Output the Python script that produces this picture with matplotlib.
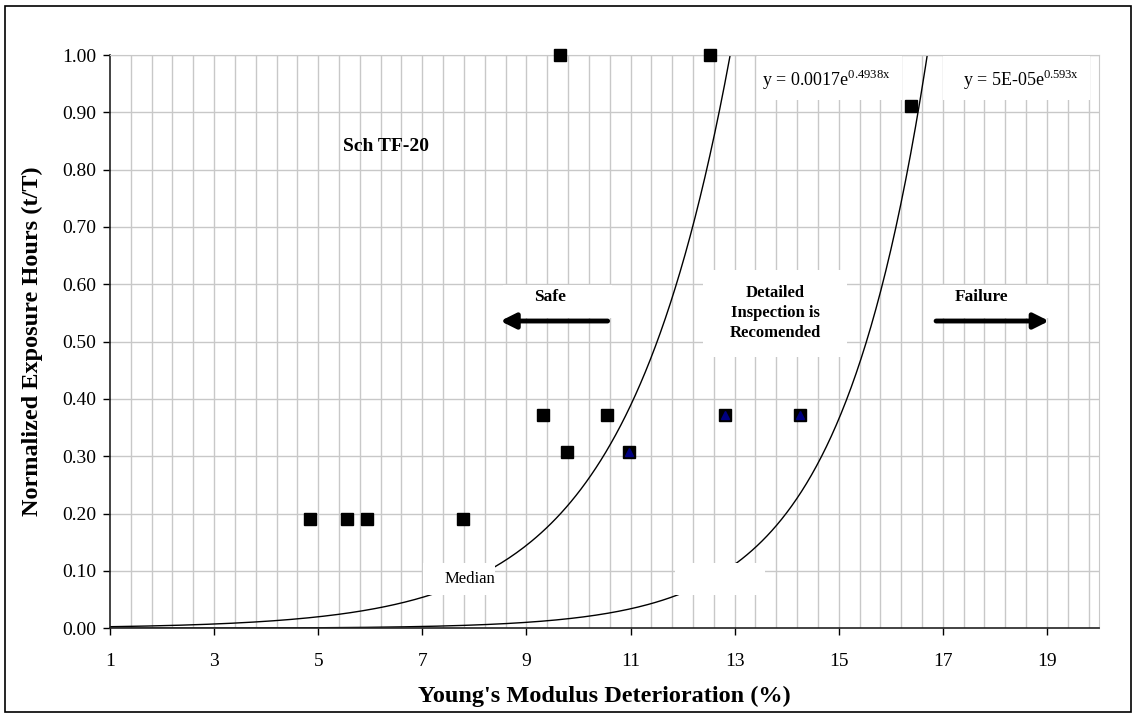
import matplotlib.pyplot as plt
import numpy as np
from matplotlib.patches import Rectangle

plt.rcParams['font.family'] = 'Liberation Serif'
plt.rcParams['mathtext.fontset'] = 'custom'
plt.rcParams['mathtext.rm'] = 'Liberation Serif'

# measured points (Young's modulus deterioration %, normalized exposure t/T)
sq_x = [4.84, 5.55, 5.94, 7.79, 9.32, 9.77, 10.55, 10.98, 12.82, 14.26, 9.64, 12.53, 16.39]
sq_y = [0.19, 0.19, 0.19, 0.19, 0.372, 0.308, 0.372, 0.308, 0.372, 0.372, 1.0, 1.0, 0.911]
tri_x = [10.98, 12.82, 14.26]
tri_y = [0.308, 0.372, 0.372]

# exponential trendlines y = a*exp(b*x), as printed on the chart
trend_a = [0.0017, 5e-05]
trend_b = [0.4938, 0.593]
trend_labels = [r'y = 0.0017e$^{\mathrm{0.4938x}}$', r'y = 5E-05e$^{\mathrm{0.593x}}$']

xticks = [1, 3, 5, 7, 9, 11, 13, 15, 17, 19]
yticks = [0.0, 0.1, 0.2, 0.3, 0.4, 0.5, 0.6, 0.7, 0.8, 0.9, 1.0]

W, H = 1137, 718
fig = plt.figure(figsize=(W / 100, H / 100), dpi=100)
fig.patch.set_facecolor('white')
fig.patches.append(Rectangle((5 / W, 6 / H), (1131 - 5) / W, (712 - 6) / H, transform=fig.transFigure,
                             fill=False, edgecolor='black', linewidth=1.2))

ax = fig.add_axes([110 / W, (H - 628.3) / H, (1099 - 110) / W, (628.3 - 55) / H])
ax.set_xlim(1, 20)
ax.set_ylim(0, 1)

# grid: vertical every 0.4 from 1, horizontal every 0.1
for gx in np.arange(1.4, 20, 0.4):
    ax.axvline(gx, color='#c8c8c8', linewidth=1, zorder=0)
for gy in yticks[1:]:
    ax.axhline(gy, color='#c8c8c8', linewidth=1, zorder=0)

ax.set_xticks(xticks)
ax.set_yticks(yticks)
ax.set_yticklabels(['%.2f' % v for v in yticks])
ax.tick_params(axis='both', labelsize=14, direction='out', length=5, width=1, colors='black')
ax.tick_params(axis='x', pad=13)
ax.tick_params(axis='y', pad=5)
for s in ['top', 'right']:
    ax.spines[s].set_color('#c8c8c8')
for s in ['left', 'bottom']:
    ax.spines[s].set_color('#222222')
    ax.spines[s].set_linewidth(1.2)

xs = np.linspace(1, 20, 400)
for a, b in zip(trend_a, trend_b):
    ys = a * np.exp(b * xs)
    m = ys <= 1.02
    ax.plot(xs[m], ys[m], color='black', linewidth=1, zorder=2)

# white label boxes over the grid/curves
def wbox(x0, x1, y0, y1):
    ax.add_patch(Rectangle((x0, y0), x1 - x0, y1 - y0, facecolor='white', edgecolor='none', zorder=3))

wbox(7.01, 8.39, 0.058, 0.114)     # Median
wbox(11.85, 13.58, 0.058, 0.114)   # empty label
wbox(12.39, 15.16, 0.474, 0.625)   # Detailed
wbox(8.55, 10.64, 0.541, 0.599)    # Safe
wbox(16.95, 19.06, 0.541, 0.599)   # Failure
wbox(13.43, 16.22, 0.922, 0.999)   # eq 1
wbox(17.0, 19.83, 0.922, 0.999)    # eq 2

ax.plot(sq_x, sq_y, linestyle='none', marker='s', markersize=8, color='black', zorder=5, clip_on=False)
ax.plot(tri_x, tri_y, linestyle='none', marker='^', markersize=6, color='#000080', zorder=6)

ax.text(7.92, 0.086, 'Median', fontsize=12, ha='center', va='center', zorder=4)
ax.text(5.48, 0.84, 'Sch TF-20', fontsize=14, fontweight='bold', ha='left', va='center', zorder=4)
ax.text(9.45, 0.578, 'Safe', fontsize=12.5, fontweight='bold', ha='center', va='center', zorder=4)
ax.text(17.75, 0.578, 'Failure', fontsize=12.5, fontweight='bold', ha='center', va='center', zorder=4)
ax.text(13.78, 0.55, 'Detailed\nInspection is\nRecomended', fontsize=12, fontweight='bold',
        ha='center', va='center', linespacing=1.3, zorder=4)
ax.text(13.52, 0.957, trend_labels[0], fontsize=13, ha='left', va='center', zorder=4)
ax.text(17.39, 0.957, trend_labels[1], fontsize=13, ha='left', va='center', zorder=4)

arrow = dict(arrowstyle='-|>,head_length=0.9,head_width=0.45', color='black', lw=3.5, shrinkA=0, shrinkB=0)
ax.annotate('', xy=(8.50, 0.536), xytext=(10.56, 0.536), arrowprops=arrow, zorder=4)
ax.annotate('', xy=(19.04, 0.536), xytext=(16.87, 0.536), arrowprops=arrow, zorder=4)

ax.set_xlabel("Young's Modulus Deterioration (%)", fontsize=17.5, fontweight='bold', labelpad=11)
ax.set_ylabel('Normalized Exposure Hours (t/T)', fontsize=17.5, fontweight='bold', labelpad=14)

fig.savefig('out.png', dpi=100)
